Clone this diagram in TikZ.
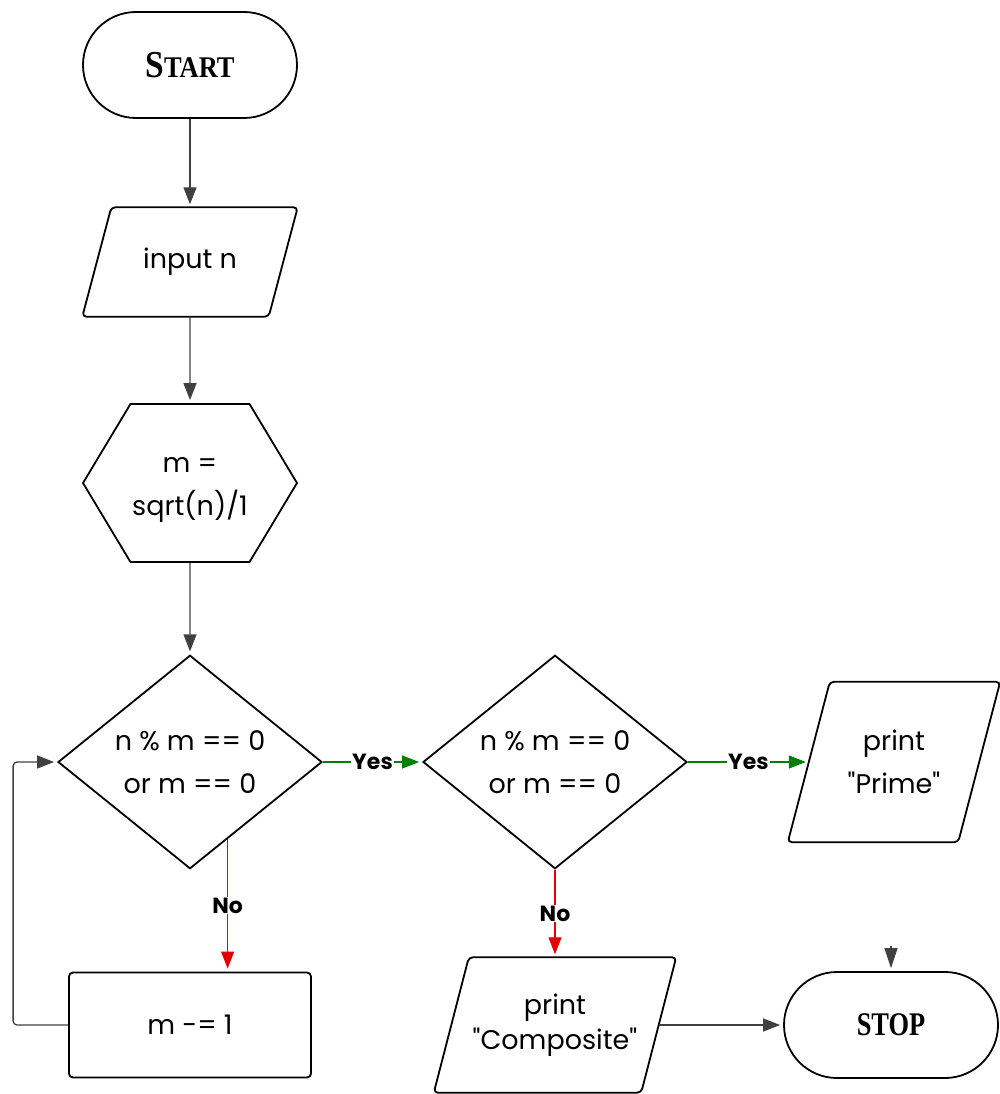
\documentclass[tikz,border=0pt]{standalone}
\usepackage{fontspec}
\usepackage{graphicx}
\defaultfontfeatures[\rmfamily,\sffamily]{}
\setmainfont{Poppins}
\newfontfamily\termfont{Liberation Serif}
\newcommand\lift[1]{\rule{0pt}{#1}}
\usetikzlibrary{arrows.meta,shapes.geometric,shapes.symbols}

\begin{document}
\begin{tikzpicture}[x=1pt,y=1pt,>={Stealth[length=17pt,width=13pt,inset=0pt]},
    node distance=263pt,
    every node/.style={font=\fontsize{27}{43}\selectfont,align=center,inner sep=0pt},
    frame/.style={draw,line width=1.8pt,rounded corners=4pt},
    terminal/.style={frame,rounded corners=53pt,minimum width=214pt,minimum height=106pt},
    io/.style={minimum width=#1},
    prep/.style={draw,line width=1.8pt,signal,signal to=west and east,signal pointer angle=118,
      minimum width=214pt,minimum height=158pt},
    decision/.style={draw,line width=1.8pt,diamond,minimum width=264pt,minimum height=210pt},
    process/.style={frame,minimum width=242pt,minimum height=105pt},
    flow/.style={draw=black!75,line width=1.3pt,->,shorten >=3pt},
    yes/.style={flow,draw=green!50!black},
    no/.style={flow,draw=red!90!black},
    answer/.style={fill=white,font=\fontsize{22}{22}\selectfont\bfseries,inner sep=1pt}]
  \useasboundingbox (0,0) rectangle (1000,-1094);
  \node[terminal] (start) at (190,-65)
    {\termfont\bfseries\scalebox{0.88}[1]{{\fontsize{38}{38}\selectfont S}\fontsize{30}{30}\selectfont TART}};
  \node[io=186pt,minimum height=109pt] (input) [below of=start,node distance=197pt] {input n};
  \node[prep] (calc) [below of=input,node distance=221pt] {\lift{30pt}m =\\sqrt(n)/1};
  \node[decision] (d1) [below of=calc,node distance=279pt] {n \% m == 0\\or m == 0};
  \node[process] (decr) [below of=d1] {m -= 1};
  \node[decision] (d2) [right of=d1,node distance=365pt] {n \% m == 0\\or m == 0};
  \node[io=170pt,minimum height=160pt] (prime) [right of=d2,node distance=339pt] {print\\"Prime"};
  \node[io=207pt,minimum height=135pt,font=\fontsize{27}{35}\selectfont] (comp) [below of=d2]
    {print\\"Composite"};
  \node[terminal] (stop) [right of=comp,node distance=336pt]
    {\termfont\bfseries\scalebox{0.8}[1]{\fontsize{33}{33}\selectfont STOP}};
  \coordinate[above of=stop,node distance=79pt] (feed);
  % slanted outlines of the in/out boxes
  \foreach \n/\s in {input/14.5,prime/21,comp/17.5}
    \draw[frame] ([xshift=\s]\n.north west) -- ([xshift=\s]\n.north east)
      -- ([xshift=-\s]\n.south east) -- ([xshift=-\s]\n.south west) -- cycle;
  \path (start) edge[flow] (input)
    (input) edge[flow] (calc)
    (calc) edge[flow] (d1)
    (d1) edge[yes] node[answer] {Yes} (d2)
    (d2) edge[yes] node[answer] {Yes} (prime)
    (d1.-64.6) edge[no] node[answer] {No} (d1.-64.6 |- decr.north)
    (d2) edge[no] node[answer] {No} (comp)
    (comp) edge[flow] (stop)
    (feed) edge[flow,>={Stealth[length=20pt,width=13pt,inset=0pt]}] (stop);
  \draw[flow,rounded corners=4pt] (decr.west) -- ++(-55,0) |- (d1.west);
\end{tikzpicture}
\end{document}
